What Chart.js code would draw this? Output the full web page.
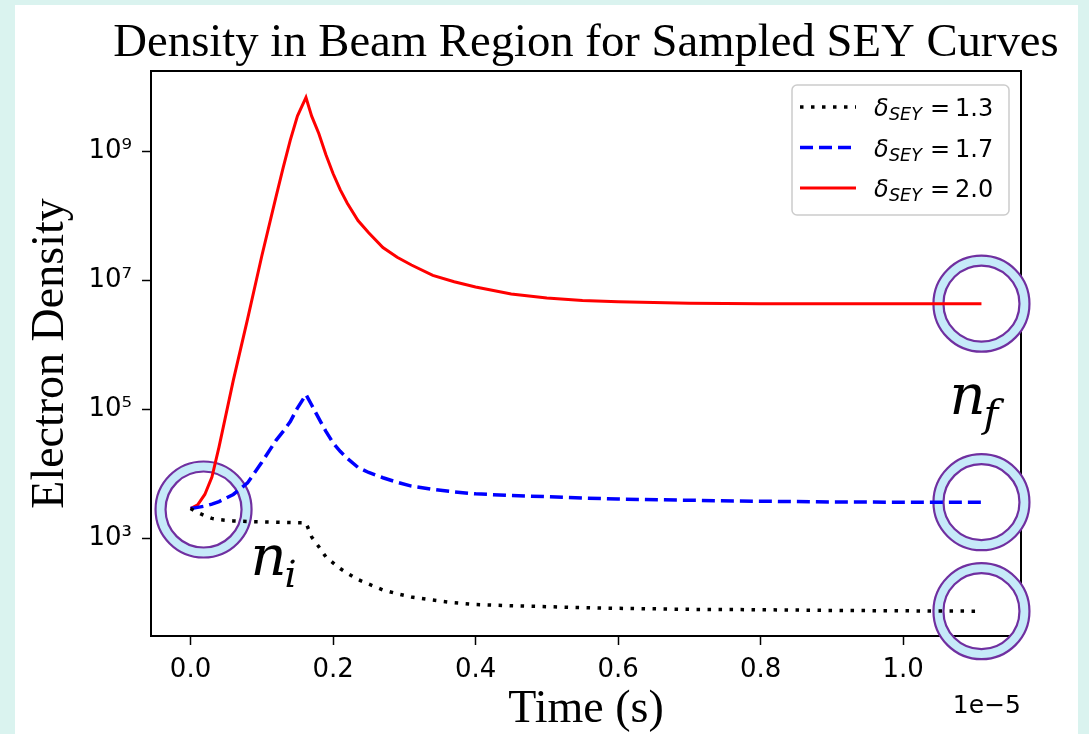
<!DOCTYPE html>
<html>
<head>
<meta charset="utf-8">
<script src="https://cdn.jsdelivr.net/npm/chart.js@4.4.0/dist/chart.umd.min.js"></script>
<style>
html, body { margin: 0; padding: 0; background: #daf3ef; overflow: hidden; }
#panel { position: absolute; left: 15px; top: 5px; width: 1063px; height: 740px; background: #fff; }
#wrap { position: absolute; left: 0; top: 0; width: 1089px; height: 734px; }
</style>
</head>
<body>
<div id="panel"></div>
<div id="wrap"><canvas id="chart"></canvas></div>
<script>
// time in units of 1e-5 s
const times = [0, 0.01, 0.02, 0.03, 0.04, 0.06, 0.08, 0.10, 0.12, 0.13, 0.14, 0.15, 0.162, 0.17, 0.18, 0.19, 0.20, 0.21, 0.22, 0.235, 0.25, 0.27, 0.29, 0.31, 0.34, 0.37, 0.40, 0.45, 0.50, 0.55, 0.60, 0.70, 0.80, 0.90, 1.00, 1.11];
const dens13 = [2900, 2510, 2240, 2040, 1950, 1860, 1820, 1800, 1780, 1770, 1760, 1750, 1740, 1050, 741, 513, 417, 339, 288, 229, 195, 158, 138, 123, 110, 100, 94, 90, 87, 84, 82, 79, 78, 76, 75, 74];
const dens17 = [2900, 3020, 3160, 3390, 3720, 4790, 7240, 15100, 33100, 45700, 64600, 105000, 170000, 117000, 72400, 45700, 30200, 22400, 17400, 12600, 10500, 8710, 7410, 6460, 5750, 5250, 4900, 4620, 4420, 4220, 4070, 3890, 3760, 3670, 3630, 3630];
const dens20 = [2900, 3310, 4790, 8910, 26300, 282000, 2.51e6, 2.4e7, 2.0e8, 5.62e8, 1.51e9, 3.55e9, 6.92e9, 3.55e9, 1.91e9, 8.91e8, 4.57e8, 2.57e8, 1.58e8, 8.51e7, 5.5e7, 3.24e7, 2.29e7, 1.74e7, 1.2e7, 9.55e6, 7.94e6, 6.17e6, 5.37e6, 4.9e6, 4.68e6, 4.42e6, 4.37e6, 4.37e6, 4.37e6, 4.37e6];
const seyValues = ["1.3", "1.7", "2.0"];
const xTicks = [0, 0.2, 0.4, 0.6, 0.8, 1.0];
const yTicks = [1e3, 1e5, 1e7, 1e9];
const supDigits = {3: "\u00b3", 5: "\u2075", 7: "\u2077", 9: "\u2079"};

const toPoints = arr => times.map((t, i) => ({x: t, y: arr[i]}));

const overlay = {
  id: "overlay",
  beforeDatasetsDraw(chart) {
    const {ctx, chartArea: a, scales: {x, y}} = chart;
    ctx.save();
    ctx.strokeStyle = "#000";
    ctx.lineWidth = 2;
    ctx.strokeRect(a.left, a.top, a.right - a.left, a.bottom - a.top);

    const last = times.length - 1;
    const rings = [
      [x.getPixelForValue(times[0]) + 13, y.getPixelForValue(dens20[0]) + 1],
      [x.getPixelForValue(times[last]), y.getPixelForValue(dens20[last])],
      [x.getPixelForValue(times[last]), y.getPixelForValue(dens17[last])],
      [x.getPixelForValue(times[last]), y.getPixelForValue(dens13[last])]
    ];
    rings.forEach(([cx, cy]) => {
      ctx.beginPath();
      ctx.arc(cx, cy, 48, 0, Math.PI * 2);
      ctx.arc(cx, cy, 38, 0, Math.PI * 2, true);
      ctx.fillStyle = "#c6eaf9";
      ctx.fill();
      ctx.strokeStyle = "#7030a0";
      ctx.lineWidth = 2.2;
      ctx.beginPath(); ctx.arc(cx, cy, 48, 0, Math.PI * 2); ctx.stroke();
      ctx.beginPath(); ctx.arc(cx, cy, 38, 0, Math.PI * 2); ctx.stroke();
    });
    chart.$rings = rings;
    ctx.restore();
  },
  afterDraw(chart) {
    const {ctx, chartArea: a} = chart;
    ctx.save();
    ctx.fillStyle = "#000";
    ctx.textBaseline = "alphabetic";

    // title
    ctx.font = '46.7px "Liberation Serif"';
    ctx.textAlign = "center";
    ctx.fillText("Density in Beam Region for Sampled SEY Curves", (a.left + a.right) / 2, 56);

    // offset text
    ctx.font = '25px "DejaVu Sans"';
    ctx.textAlign = "right";
    ctx.fillText("1e\u22125", a.right, 713);

    // legend
    const lx = a.right - 229, ly = a.top + 14;
    ctx.beginPath();
    ctx.roundRect(lx, ly, 217, 130, 5);
    ctx.fillStyle = "rgba(255,255,255,0.8)";
    ctx.fill();
    ctx.strokeStyle = "#cccccc";
    ctx.lineWidth = 1.5;
    ctx.stroke();
    ctx.textAlign = "left";
    chart.data.datasets.forEach((ds, i) => {
      const ry = ly + 22 + i * 40.5;
      ctx.strokeStyle = ds.borderColor;
      ctx.lineWidth = ds.borderWidth;
      ctx.setLineDash(ds.borderDash || []);
      ctx.beginPath();
      ctx.moveTo(lx + 8, ry);
      ctx.lineTo(lx + 64, ry);
      ctx.stroke();
      ctx.setLineDash([]);
      ctx.fillStyle = "#000";
      ctx.font = 'oblique 24px "DejaVu Sans"';
      ctx.fillText("\u03b4", lx + 82, ry + 9);
      ctx.font = 'oblique 17.5px "DejaVu Sans"';
      ctx.fillText("SEY", lx + 97, ry + 13);
      ctx.font = '24px "DejaVu Sans"';
      ctx.fillText("=", lx + 138, ry + 9);
      ctx.fillText(seyValues[i], lx + 163, ry + 9);
    });

    // n_i and n_f
    const r = chart.$rings;
    ctx.fillStyle = "#000";
    ctx.font = 'italic 56px "DejaVu Serif"';
    ctx.fillText("n", r[0][0] + 47, r[0][1] + 65);
    ctx.fillText("n", r[1][0] - 32, r[1][1] + 110);
    ctx.font = 'italic 38px "DejaVu Serif"';
    ctx.fillText("i", r[0][0] + 81, r[0][1] + 77);
    ctx.font = 'italic 40px "DejaVu Serif"';
    ctx.fillText("f", r[1][0] + 2, r[1][1] + 123);
    ctx.restore();
  }
};

new Chart(document.getElementById("chart"), {
  type: "line",
  data: {
    datasets: [
      {label: "1.3", data: toPoints(dens13), borderColor: "#000000", borderWidth: 3.5, borderDash: [3.5, 7.5], pointRadius: 0, tension: 0},
      {label: "1.7", data: toPoints(dens17), borderColor: "#0000ff", borderWidth: 3.5, borderDash: [13, 6], pointRadius: 0, tension: 0},
      {label: "2.0", data: toPoints(dens20), borderColor: "#ff0000", borderWidth: 3, pointRadius: 0, tension: 0}
    ]
  },
  options: {
    responsive: true,
    maintainAspectRatio: false,
    animation: false,
    layout: {padding: {left: 0, right: 68, top: 71, bottom: 0}},
    plugins: {legend: {display: false}, title: {display: false}, tooltip: {enabled: false}},
    scales: {
      x: {
        type: "linear",
        min: -0.0555,
        max: 1.1655,
        afterBuildTicks: s => { s.ticks = xTicks.map(v => ({value: v})); },
        afterFit: s => { s.height = 98; },
        ticks: {callback: v => v.toFixed(1), font: {family: "DejaVu Sans", size: 26}, color: "#000", padding: 10, maxRotation: 0, autoSkip: false},
        grid: {drawOnChartArea: false, drawTicks: true, tickLength: 9, tickColor: "#000", tickWidth: 1.5},
        border: {color: "#000", width: 2},
        title: {display: true, text: "Time (s)", color: "#000", font: {family: "Liberation Serif", size: 46, lineHeight: 1.03}, padding: {top: 0, bottom: 0}}
      },
      y: {
        type: "logarithmic",
        min: 30.5,
        max: 1.78e10,
        afterBuildTicks: s => { s.ticks = yTicks.map(v => ({value: v})); },
        afterFit: s => { s.width = 151; },
        ticks: {callback: v => "10" + supDigits[Math.round(Math.log10(v))], font: {family: "DejaVu Sans", size: 26}, color: "#000", padding: 10, autoSkip: false},
        grid: {drawOnChartArea: false, drawTicks: true, tickLength: 9, tickColor: "#000", tickWidth: 1.5},
        border: {color: "#000", width: 2},
        title: {display: true, text: "Electron Density", color: "#000", font: {family: "Liberation Serif", size: 46, lineHeight: 1.2}, padding: {top: 23, bottom: 0}}
      }
    }
  },
  plugins: [overlay]
});
</script>
</body>
</html>
